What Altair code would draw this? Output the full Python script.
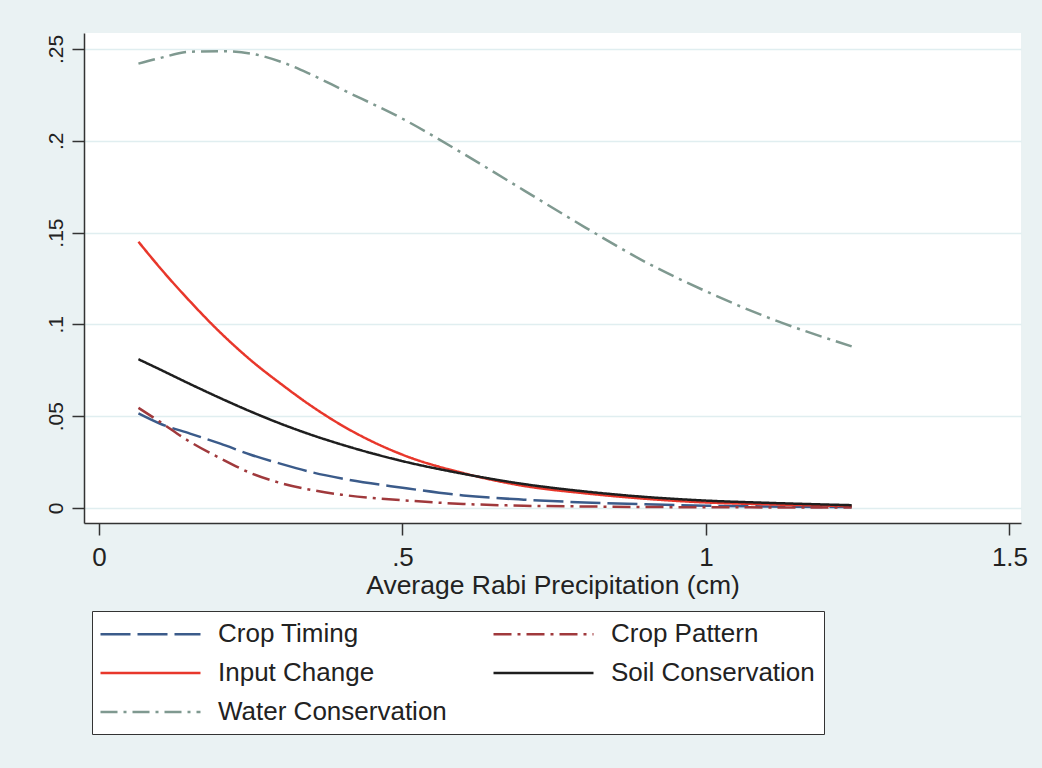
import altair as alt
import pandas as pd

# Average rabi precipitation (cm) at which the fitted probabilities are evaluated
precip = [0.065, 0.1, 0.15, 0.2, 0.25, 0.3, 0.35, 0.4, 0.5, 0.6, 0.7, 0.8, 0.9, 1.0, 1.1, 1.24]

# Predicted probability of each adaptation strategy
crop_timing = [0.0515, 0.046, 0.0405, 0.035, 0.029, 0.024, 0.0195, 0.016, 0.011, 0.0068,
               0.0045, 0.003, 0.002, 0.0012, 0.0008, 0.0005]
crop_pattern = [0.0545, 0.047, 0.036, 0.027, 0.019, 0.0135, 0.0098, 0.0072, 0.0042, 0.0022,
                0.0012, 0.0008, 0.0005, 0.0004, 0.0003, 0.0003]
input_change = [0.145, 0.131, 0.1125, 0.0955, 0.0805, 0.0675, 0.0555, 0.045, 0.029, 0.019,
                0.012, 0.008, 0.005, 0.003, 0.002, 0.001]
soil_conservation = [0.081, 0.0755, 0.0675, 0.0598, 0.0525, 0.0458, 0.0398, 0.0345, 0.0255, 0.0186,
                     0.013, 0.009, 0.006, 0.004, 0.0028, 0.0015]
water_conservation = [0.242, 0.245, 0.2485, 0.2488, 0.2475, 0.243, 0.236, 0.228, 0.212, 0.193,
                      0.173, 0.153, 0.134, 0.118, 0.104, 0.088]

# Legend fills column by column, so this order reads row by row in two columns
series_names = ["Crop Timing", "Input Change", "Water Conservation", "Crop Pattern", "Soil Conservation"]
series_values = [crop_timing, input_change, water_conservation, crop_pattern, soil_conservation]
series_colors = ["#3b5b8a", "#e8372b", "#7f9990", "#a0393c", "#1e1e1e"]
series_dashes = [[30, 7], [1, 0], [17, 6, 3, 6], [18, 6, 3, 6], [1, 0]]

x_ticks = [0, 0.5, 1, 1.5]
y_ticks = [0, 0.05, 0.1, 0.15, 0.2, 0.25]

rows = []
for name, vals in zip(series_names, series_values):
    for x, y in zip(precip, vals):
        rows.append({"precip": x, "prob": y, "series": name})
df = pd.DataFrame(rows)

# Stata-style labels: drop the leading zero of decimals (".05", ".5")
strip_zero = "datum.value > 0 && datum.value < 1 ? substring(format(datum.value, '~g'), 1) : format(datum.value, '~g')"

# wide, flat legend key: a horizontal stroke path scaled by the symbol size
legend_key = "M-3.846,0H3.846"

chart = alt.Chart(df).mark_line(strokeWidth=2.5, interpolate="monotone").encode(
    x=alt.X("precip:Q",
            scale=alt.Scale(domain=[-0.0247, 1.519], nice=False, zero=False),
            axis=alt.Axis(values=x_ticks, labelExpr=strip_zero, grid=False,
                          title="Average Rabi Precipitation (cm)", titleFontSize=26.5,
                          tickSize=12, labelPadding=9, titlePadding=2)),
    y=alt.Y("prob:Q",
            scale=alt.Scale(domain=[-0.0082, 0.2587], nice=False, zero=False),
            axis=alt.Axis(values=y_ticks, labelExpr=strip_zero, grid=True, title=None,
                          labelAngle=270, labelAlign="center", labelBaseline="alphabetic",
                          labelFontSize=21, tickSize=12, labelPadding=10)),
    color=alt.Color("series:N",
                    scale=alt.Scale(domain=series_names, range=series_colors),
                    legend=alt.Legend(title=None, orient="none", legendX=8, legendY=578,
                                      columns=2, fillColor="white", strokeColor="#333333",
                                      padding=8.5, labelFontSize=26, labelOffset=53,
                                      symbolSize=676, symbolStrokeWidth=2.5,
                                      symbolType=legend_key, symbolOffset=35.5,
                                      rowPadding=11, columnPadding=41,
                                      labelColor="#222222", labelLimit=400)),
    strokeDash=alt.StrokeDash("series:N",
                              scale=alt.Scale(domain=series_names, range=series_dashes),
                              legend=None),
    detail="series:N",
).properties(
    width=937,
    height=490,
    padding={"left": 84, "top": 33, "right": 21, "bottom": 245},
    autosize=alt.AutoSizeParams(type="none"),
    background="#eaf2f3",
).configure(
    font="Liberation Sans",
).configure_view(
    fill="white",
    stroke=None,
).configure_axis(
    domainColor="#333333",
    domainWidth=1.5,
    tickColor="#333333",
    tickWidth=1.5,
    labelFontSize=26,
    labelColor="#222222",
    titleFontSize=26,
    titleFontWeight="normal",
    titleColor="#222222",
    gridColor="#e0eef0",
    gridWidth=1.5,
)

chart.save("out.html", embed_options={"renderer": "svg", "actions": False})
